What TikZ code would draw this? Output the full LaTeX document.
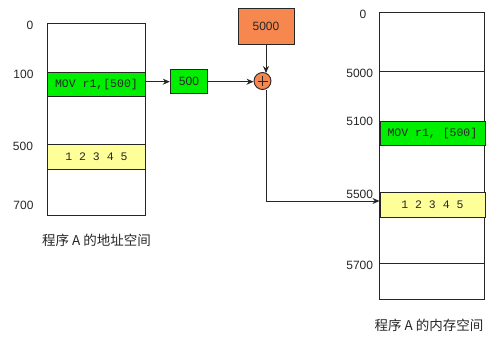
\documentclass[tikz,border=0pt]{standalone}
\usepackage{fontspec}
\setmainfont{Liberation Sans}
\newfontfamily\monof{Liberation Mono}
\newfontfamily\cjk{Noto Sans CJK SC}
\usetikzlibrary{arrows.meta}
\definecolor{bandgreen}{HTML}{00EE00}
\definecolor{bandyellow}{HTML}{FFFF99}
\definecolor{orangebox}{HTML}{F5874F}
\tikzset{
  mem/.style={draw=black!85, line width=0.9pt, fill=white},
  band/.style={draw=black!85, line width=0.9pt, inner sep=0pt, font=\monof\fontsize{11.5}{12}\selectfont, text=black!85},
  numbox/.style={band, font=\fontsize{12}{14}\selectfont},
  addr/.style={font=\fontsize{12}{14}\selectfont, text=black!85, inner sep=0pt},
  captext/.style={font=\cjk\fontsize{13.5}{15}\selectfont, text=black!85, inner sep=0pt},
  conn/.style={line width=0.9pt, draw=black!85, -{Stealth[length=7pt,width=6pt]}},
  plainline/.style={line width=0.9pt, draw=black!85},
}
\begin{document}
\begin{tikzpicture}[x=1pt,y=-1pt]
\useasboundingbox (0,0) rectangle (499,337);
% left memory (address space)
\draw[mem] (47,23) rectangle (145,215);
\node[band, fill=bandgreen, minimum width=98pt, minimum height=24.5pt, anchor=north west] (lmov) at (47,72) {MOV r1,[500]};
\node[band, fill=bandyellow, minimum width=98pt, minimum height=24.5pt, anchor=north west] (ldata) at (47,144.5) {1 2 3 4 5};
\node[addr] (l0) at (30,25) {0};
\node[addr] (l100) at (23.5,74) {100};
\node[addr] (l500) at (23,146) {500};
\node[addr] (l700) at (23.5,205) {700};
\node[captext] (lcap) at (96.5,240.5) {程序 A 的地址空间};
% offset box
\node[numbox, fill=bandgreen, minimum width=37.5pt, minimum height=24.5pt] (off) at (189,81.7) {500};
% base box
\node[numbox, fill=orangebox, minimum width=56pt, minimum height=36pt] (base) at (266,26.3) {5000};
% adder
\node[circle, draw=black!85, line width=0.9pt, fill=orangebox, minimum size=17pt, inner sep=0pt] (add) at (262.5,81) {};
\draw[plainline] ([xshift=-5pt]add.center) -- ([xshift=5pt]add.center);
\draw[plainline] ([yshift=-5pt]add.center) -- ([yshift=5pt]add.center);
% right memory
\draw[mem] (379.5,12.5) rectangle (484.5,299);
\draw[plainline] (379.5,71.7) -- (484.5,71.7);
\node[band, fill=bandgreen, minimum width=105pt, minimum height=24pt, anchor=north west] (rmov) at (379.5,120.7) {MOV r1, [500]};
\node[band, fill=bandyellow, minimum width=105pt, minimum height=24.5pt, anchor=north west] (rdata) at (379.5,192.5) {1 2 3 4 5};
\draw[plainline] (379.5,263.3) -- (484.5,263.3);
\node[addr] (r0) at (363,14) {0};
\node[addr] (r5000) at (359.7,73.5) {5000};
\node[addr] (r5100) at (359.7,121.5) {5100};
\node[addr] (r5500) at (359.7,194) {5500};
\node[addr] (r5700) at (359.7,265.5) {5700};
\node[captext] (rcap) at (429,325) {程序 A 的内存空间};
\coordinate (turn) at (266,201);
% connectors
\draw[conn] (lmov.east |- off.west) -- (off.west);
\draw[conn] (off.east) -- (add.west |- off.east);
\draw[conn] (base.south) -- ([yshift=-1pt]add.north -| base.south);
\draw[plainline] (add.south -| turn) -- (turn);
\draw[conn] (turn) -- (turn -| rdata.west);
\end{tikzpicture}
\end{document}
